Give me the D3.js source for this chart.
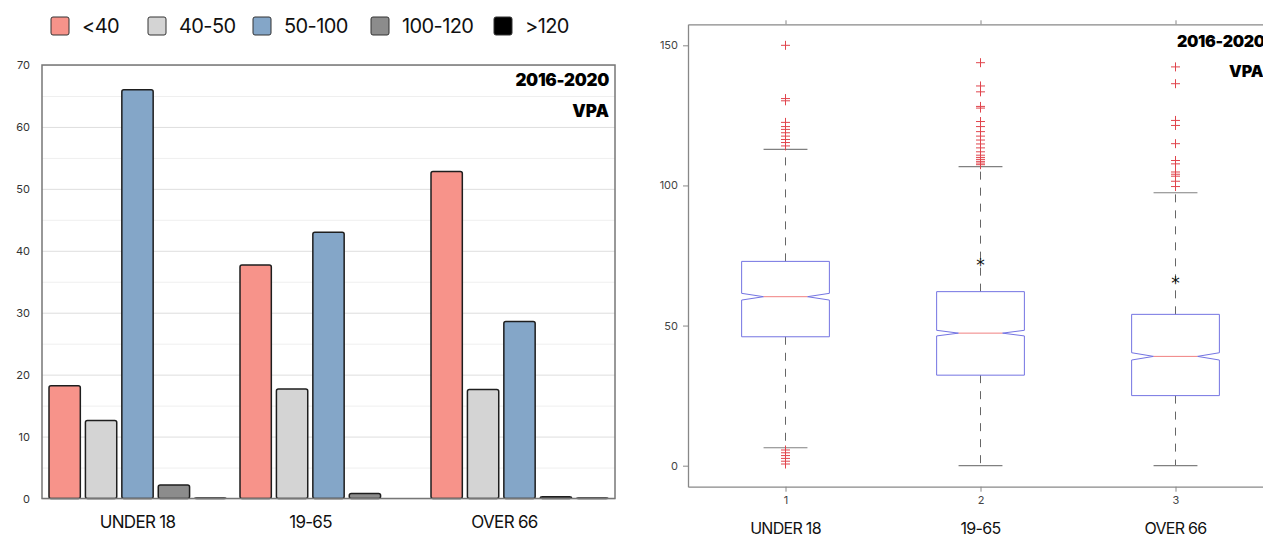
<!DOCTYPE html>
<html>
<head>
<meta charset="utf-8">
<script src="https://cdn.jsdelivr.net/npm/d3@7"></script>
<style>
  body { margin: 0; background: #fff; }
  svg { display: block; }
  text { font-family: Inter, "Liberation Sans", sans-serif; }
</style>
</head>
<body>
<div id="chart"></div>
<script>
// ---- data: left chart (share per speed band) ----
var groups = ["UNDER 18", "19-65", "OVER 66"];
var bands = ["<40", "40-50", "50-100", "100-120", ">120"];
var under40 = [18.2, 37.7, 52.8];
var from40to50 = [12.6, 17.7, 17.6];
var from50to100 = [66, 43, 28.6];
var from100to120 = [2.2, 0.8, 0.3];
var over120 = [0.1, 0, 0.1];
var leftTicks = [0, 10, 20, 30, 40, 50, 60, 70];

// ---- data: right chart (box plot) ----
var boxTicks = [1, 2, 3];
var boxYTicks = [0, 50, 100, 150];
var q1 = [46, 32.3, 25];
var median = [60.3, 47.3, 39];
var q3 = [72.9, 62.1, 54];
var whiskerLow = [6.4, 0, 0];
var whiskerHigh = [112.9, 106.7, 97.4];
var notchHalf = [1.2, 1.0, 1.3];
var starValue = [null, 73, 66.7];
var outliers1 = [150, 131, 130.2, 122.5, 121, 120, 118.8, 117.6, 116.4, 115.3, 114.1, 5.6, 4.6, 3.6, 2.6, 1.6, 0.6];
var outliers2 = [143.8, 135.5, 133.4, 128.2, 127.6, 122.8, 121, 119.2, 117.6, 116.2, 114.8, 113.4, 112, 110.8, 110, 109.3, 108.6, 108, 107.4];
var outliers3 = [142.3, 136.3, 123.2, 121.4, 114.9, 108.9, 107.7, 104.8, 104, 103.3, 101.5, 99.6];

var values = [under40, from40to50, from50to100, from100to120, over120];
var outliers = [outliers1, outliers2, outliers3];
var colors = ["#f7938a", "#d4d4d4", "#84a6c8", "#8c8c8c", "#000000"];

var svg = d3.select("#chart").append("svg")
  .attr("width", 1263)
  .attr("height", 537);

//================ left chart ================
var pLeft = 42, pRight = 615, pTop = 65, pBottom = 498.5;

var x0 = d3.scaleBand().domain(groups).range([pLeft, pRight]);
var x1 = d3.scaleBand().domain(bands).range([7, 184]).paddingInner(0.14);
var y = d3.scaleLinear().domain([0, 70]).range([pBottom, pTop]);
var color = d3.scaleOrdinal().domain(bands).range(colors);

// minor gridlines every 5
svg.append("g")
  .attr("transform", "translate(" + pLeft + ",0)")
  .call(d3.axisLeft(y).tickValues(d3.range(5, 70, 10)).tickSize(-(pRight - pLeft)).tickFormat(""))
  .call(function(g) { g.select(".domain").remove(); })
  .selectAll(".tick line").attr("stroke", "#efefef");

// major gridlines + labels
var gy = svg.append("g")
  .attr("transform", "translate(" + pLeft + ",0)")
  .call(d3.axisLeft(y).tickValues(leftTicks).tickSize(-(pRight - pLeft)).tickPadding(12));
gy.select(".domain").remove();
gy.selectAll(".tick line").attr("stroke", "#dedede");
gy.selectAll(".tick text").attr("fill", "#333").style("font-size", "11px");

// bars
var rows = groups.map(function(g, i) {
  return bands.map(function(b, j) { return {group: g, band: b, value: values[j][i]}; });
});

svg.append("g").selectAll("g")
  .data(rows)
  .enter().append("g")
  .attr("transform", function(d) { return "translate(" + x0(d[0].group) + ",0)"; })
  .selectAll("rect")
  .data(function(d) { return d.filter(function(e) { return e.value > 0; }); })
  .enter().append("rect")
  .attr("x", function(d) { return x1(d.band); })
  .attr("y", function(d) { return y(d.value); })
  .attr("width", x1.bandwidth())
  .attr("height", function(d) { return y(0) - y(d.value); })
  .attr("rx", 2)
  .attr("fill", function(d) { return color(d.band); })
  .attr("stroke", "#1e1e1e")
  .attr("stroke-width", 1.5);

// frame
svg.append("rect")
  .attr("x", pLeft).attr("y", pTop)
  .attr("width", pRight - pLeft).attr("height", pBottom - pTop)
  .attr("fill", "none").attr("stroke", "#777").attr("stroke-width", 1.5);

// group labels (hand placed in the original)
var labelShift = [0, -18, -15];
svg.append("g").selectAll("text")
  .data(groups)
  .enter().append("text")
  .attr("x", function(d, i) { return x0(d) + x0.bandwidth() / 2 + labelShift[i]; })
  .attr("y", 528)
  .attr("text-anchor", "middle")
  .attr("fill", "#111")
  .style("font-size", "17px")
  .style("letter-spacing", "-0.7px")
  .text(function(d) { return d; });

// tags
svg.append("text").attr("x", 609).attr("y", 86).attr("text-anchor", "end")
  .style("font-size", "17px").style("font-weight", 900).style("letter-spacing", "-0.3px").text("2016-2020");
svg.append("text").attr("x", 609).attr("y", 117).attr("text-anchor", "end")
  .style("font-size", "17px").style("font-weight", 900).text("VPA");

// legend
var legendX = [51, 148, 253, 371, 494];
var legend = svg.append("g").selectAll("g")
  .data(bands)
  .enter().append("g")
  .attr("transform", function(d, i) { return "translate(" + legendX[i] + ",17)"; });
legend.append("rect")
  .attr("width", 18).attr("height", 18).attr("rx", 2)
  .attr("fill", function(d) { return color(d); })
  .attr("stroke", "#333").attr("stroke-width", 1);
legend.append("text")
  .attr("x", 31).attr("y", 16)
  .attr("fill", "#111")
  .style("font-size", "20px")
  .style("letter-spacing", "-0.6px")
  .text(function(d) { return d; });

//================ right chart (box plot) ================
var bLeft = 688, bRight = 1273, bTop = 24.3, bBottom = 486.7;
var xb = d3.scaleLinear().domain([0.5, 3.5]).range([bLeft, bRight]);
var yb = d3.scaleLinear().domain([-7.5, 157.5]).range([bBottom, bTop]);
var boxW = 0.45;

var ax = svg.append("g");
ax.append("g").attr("transform", "translate(" + bLeft + ",0)")
  .call(d3.axisLeft(yb).tickValues(boxYTicks).tickSize(5).tickSizeOuter(0).tickPadding(5));
ax.append("g").attr("transform", "translate(0," + bBottom + ")")
  .call(d3.axisBottom(xb).tickValues(boxTicks).tickFormat(d3.format("d")).tickSize(5).tickSizeOuter(0).tickPadding(5));
ax.append("g").attr("transform", "translate(0," + bTop + ")")
  .call(d3.axisTop(xb).tickValues(boxTicks).tickSize(4).tickSizeOuter(0).tickFormat(""));
ax.selectAll(".domain").attr("stroke", "#888").attr("stroke-width", 1.3);
ax.selectAll(".tick line").attr("stroke", "#888");
ax.selectAll(".tick text").attr("fill", "#444").style("font-size", "11px");

var boxes = svg.append("g").selectAll("g")
  .data(boxTicks)
  .enter().append("g");

// dashed whiskers
boxes.append("line")
  .attr("x1", function(d) { return xb(d); }).attr("x2", function(d) { return xb(d); })
  .attr("y1", function(d, i) { return yb(q3[i]); })
  .attr("y2", function(d, i) { return yb(whiskerHigh[i]); })
  .attr("stroke", "#666").attr("stroke-dasharray", "8,8");
boxes.append("line")
  .attr("x1", function(d) { return xb(d); }).attr("x2", function(d) { return xb(d); })
  .attr("y1", function(d, i) { return yb(q1[i]); })
  .attr("y2", function(d, i) { return yb(whiskerLow[i]); })
  .attr("stroke", "#666").attr("stroke-dasharray", "8,8");

// caps
[whiskerHigh, whiskerLow].forEach(function(arr) {
  boxes.append("line")
    .attr("x1", function(d) { return xb(d - boxW / 4); })
    .attr("x2", function(d) { return xb(d + boxW / 4); })
    .attr("y1", function(d, i) { return yb(arr[i]); })
    .attr("y2", function(d, i) { return yb(arr[i]); })
    .attr("stroke", "#808080").attr("stroke-width", 1.2);
});

// notched box outline
boxes.append("path")
  .attr("d", function(d, i) {
    var l = xb(d - boxW / 2), r = xb(d + boxW / 2);
    var li = xb(d - boxW / 4), ri = xb(d + boxW / 4);
    var m = yb(median[i]), nl = yb(median[i] - notchHalf[i]), nh = yb(median[i] + notchHalf[i]);
    return "M" + l + "," + yb(q1[i]) + "L" + l + "," + nl + "L" + li + "," + m +
      "L" + l + "," + nh + "L" + l + "," + yb(q3[i]) + "L" + r + "," + yb(q3[i]) +
      "L" + r + "," + nh + "L" + ri + "," + m + "L" + r + "," + nl +
      "L" + r + "," + yb(q1[i]) + "Z";
  })
  .attr("fill", "none").attr("stroke", "#7474e2").attr("stroke-width", 1);

// median
boxes.append("line")
  .attr("x1", function(d) { return xb(d - boxW / 4); })
  .attr("x2", function(d) { return xb(d + boxW / 4); })
  .attr("y1", function(d, i) { return yb(median[i]); })
  .attr("y2", function(d, i) { return yb(median[i]); })
  .attr("stroke", "#f08080").attr("stroke-width", 1);

// outliers
boxes.selectAll("path.out")
  .data(function(d, i) { return outliers[i].map(function(v) { return [d, v]; }); })
  .enter().append("path")
  .attr("class", "out")
  .attr("d", function(p) {
    var cx = xb(p[0]), cy = yb(p[1]);
    return "M" + (cx - 4.5) + "," + cy + "H" + (cx + 4.5) + "M" + cx + "," + (cy - 4.5) + "V" + (cy + 4.5);
  })
  .attr("stroke", "#e0454d").attr("stroke-width", 1);

// significance stars
boxes.filter(function(d, i) { return starValue[i] !== null; })
  .append("text")
  .attr("x", function(d) { return xb(d); })
  .attr("y", function(d) { return yb(starValue[d - 1]); })
  .attr("dy", "0.6em")
  .attr("text-anchor", "middle")
  .style("font-family", "'DejaVu Sans', sans-serif")
  .style("font-size", "17px")
  .attr("fill", "#111")
  .text("*");

// category names under the ticks
svg.append("g").selectAll("text")
  .data(groups)
  .enter().append("text")
  .attr("x", function(d, i) { return xb(boxTicks[i]); })
  .attr("y", 534)
  .attr("text-anchor", "middle")
  .attr("fill", "#111")
  .style("font-size", "16px")
  .style("letter-spacing", "-0.7px")
  .text(function(d) { return d; });

svg.append("text").attr("x", 1177).attr("y", 47)
  .style("font-size", "16px").style("font-weight", 900).style("letter-spacing", "-0.3px").text("2016-2020");
svg.append("text").attr("x", 1229).attr("y", 77)
  .style("font-size", "16px").style("font-weight", 900).text("VPA");
</script>
</body>
</html>
